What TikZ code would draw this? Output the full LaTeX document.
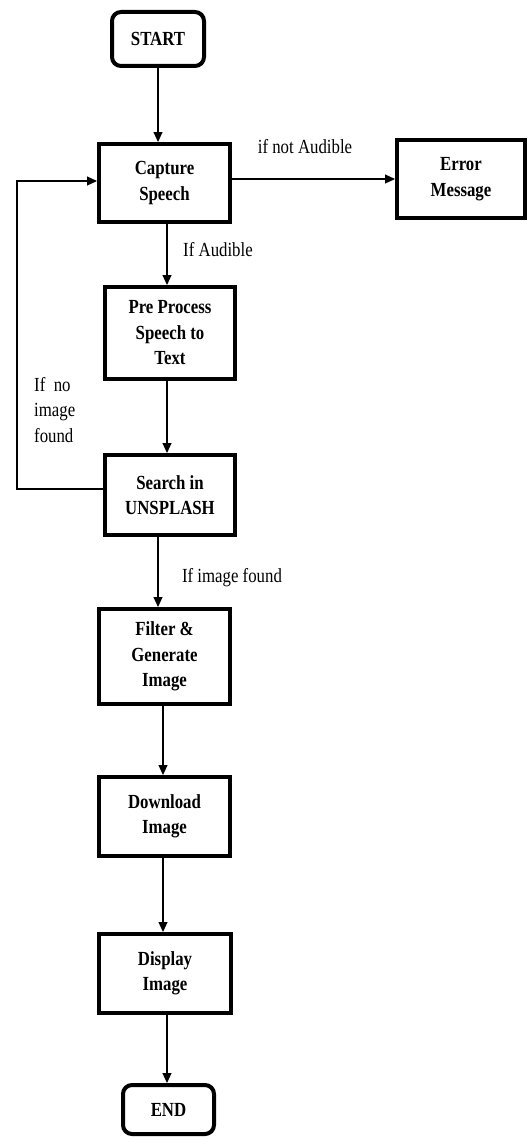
\documentclass[tikz,border=0pt]{standalone}
\usepackage{fontspec}
\setmainfont[FakeStretch=0.84]{Liberation Serif}
\usetikzlibrary{arrows.meta}
\begin{document}
\begin{tikzpicture}[x=1pt,y=-1pt,
  box/.style={draw=black,line width=4pt,align=center,inner sep=2pt,
    font=\fontsize{20}{25.5}\selectfont\bfseries},
  term/.style={box,rounded corners=9pt},
  lbl/.style={font=\fontsize{20}{25.5}\selectfont,inner sep=0pt},
  arr/.style={line width=1.1pt,-{Triangle[length=10pt,width=9pt]}}]
\useasboundingbox (0,0) rectangle (530,1140);
\node[term,minimum width=92,minimum height=54] (start) at (158,39) {START};
\node[box,minimum width=131,minimum height=78] (capture) at (164.5,183) {Capture\\Speech};
\node[box,minimum width=128,minimum height=78] (error) at (461,179) {Error\\Message};
\node[box,minimum width=130,minimum height=92] (pre) at (170,333) {Pre Process\\Speech to\\Text};
\node[box,minimum width=130,minimum height=80] (search) at (170,495) {Search in\\UNSPLASH};
\node[box,minimum width=131,minimum height=95] (filter) at (164.5,656.5) {Filter \&\\Generate\\Image};
\node[box,minimum width=131,minimum height=79] (download) at (164.5,816.5) {Download\\Image};
\node[box,minimum width=132,minimum height=79] (display) at (165,973.5) {Display\\Image};
\node[term,minimum width=91,minimum height=49] (end) at (168.5,1109.5) {END};
\coordinate (lp) at (17,489);
\draw[arr] (start.south) -- (start.south |- capture.north);
\draw[arr] (capture.east |- error.west) -- (error.west);
\draw[arr] ([xshift=-3pt]pre.north |- capture.south) -- ([xshift=-3pt]pre.north);
\draw[arr] ([xshift=-3pt]pre.south) -- ([xshift=-3pt]search.north);
\draw[arr] ([xshift=-12pt]search.south) -- ([xshift=-12pt]search.south |- filter.north);
\draw[arr] ([xshift=-1.5pt]filter.south) -- ([xshift=-1.5pt]filter.south |- download.north);
\draw[arr] ([xshift=-1.5pt]download.south) -- ([xshift=-1.5pt]download.south |- display.north);
\draw[arr] ([xshift=2pt]display.south) -- ([xshift=2pt]display.south |- end.north);
\draw[arr] ([yshift=6pt]search.west) -- (lp) |- ([yshift=2pt]capture.west);
\node[lbl] (l1) at (305,147) {if not Audible};
\node[lbl] (l2) at (218,250) {If Audible};
\node[lbl] (l3) at (232,578) {If image found};
\node[lbl,align=left,anchor=west] (l4) at (34,410) {If\ \ no\\image\\found};
\end{tikzpicture}
\end{document}
